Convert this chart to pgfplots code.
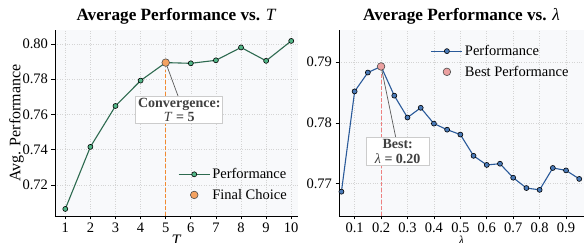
\documentclass[border=0pt]{standalone}
\usepackage{pgfplots}
\pgfplotsset{compat=1.18}
\usepackage{fontspec}
\setmainfont{Liberation Serif}
\definecolor{bgc}{HTML}{F8F9FB}
\definecolor{gline}{HTML}{2D6A4F}
\definecolor{gmark}{HTML}{52B788}
\definecolor{orng}{HTML}{F4A261}
\definecolor{orngd}{HTML}{F28A30}
\definecolor{bline}{HTML}{2A5A9A}
\definecolor{bmark}{HTML}{4A7AB8}
\definecolor{pinkc}{HTML}{EBA0A0}
\definecolor{pinkd}{HTML}{EE8080}
\definecolor{gridc}{HTML}{D4D4D4}
\pgfplotstableread{
x y
1 0.7064
2 0.7416
3 0.7648
4 0.7792
5 0.7894
6 0.7890
7 0.7907
8 0.7980
9 0.7904
10 0.8017
}\tabT
\pgfplotstableread{
x y
0.05 0.7687
0.10 0.7852
0.15 0.7883
0.20 0.7893
0.25 0.7845
0.30 0.7809
0.35 0.7825
0.40 0.7799
0.45 0.7789
0.50 0.7781
0.55 0.7746
0.60 0.7731
0.65 0.7733
0.70 0.7710
0.75 0.7693
0.80 0.7690
0.85 0.7726
0.90 0.7722
0.95 0.7708
}\tabL
\pgfplotsset{
  common/.style={
    scale only axis,
    axis on top=false,
    axis background/.style={fill=bgc},
    axis x line*=bottom, axis y line*=left,
    axis line style={black, line width=0.8pt},
    tick align=outside,
    major tick length=3.5pt,
    tick style={black, line width=0.7pt},
    grid=major,
    major grid style={gridc, dotted, line width=0.6pt},
    ticklabel style={font=\fontsize{14.5}{16}\selectfont},
    /pgf/number format/assume math mode=true,
    title style={font=\fontsize{17.2}{19}\selectfont\bfseries, yshift=-4pt},
    legend style={draw=none, fill=none, font=\fontsize{14.5}{16}\selectfont,
      row sep=5pt, inner sep=1pt},
    legend cell align=left,
    legend image code/.code={%
      \draw[mark repeat=2,mark phase=2,##1] plot coordinates {(0pt,0pt) (15.5pt,0pt) (31pt,0pt)};},
    clip=false,
  }
}
\begin{document}
\begin{tikzpicture}
\useasboundingbox (0pt,0pt) rectangle (584pt,243pt);
\begin{axis}[common,
  at={(55pt,27pt)}, anchor=south west,
  width=243pt, height=186pt,
  xmin=0.59, xmax=10.27, ymin=0.7024, ymax=0.8079,
  xtick={1,...,10},
  ytick={0.72,0.74,0.76,0.78,0.80},
  yticklabel style={/pgf/number format/.cd, fixed, fixed zerofill, precision=2},
  title={Average Performance vs. \textit{\mdseries T}},
  xlabel={\textit{T}}, xlabel style={font=\fontsize{16}{18}\selectfont, yshift=5pt},
  ylabel={Avg. Performance}, ylabel style={font=\fontsize{16}{18}\selectfont, yshift=-8pt},
  legend style={at={(0.967,0.065)}, anchor=south east},
]
\addplot[gline, line width=1.1pt, mark=*, mark size=2.5pt,
  mark options={fill=gmark, draw=black, line width=0.6pt, solid}] table[x=x,y=y] {\tabT};
\addlegendentry{Performance}
\addplot[color=orngd, dash pattern=on 4pt off 2pt, line width=1.1pt, forget plot] coordinates {(5,0.7024) (5,0.7850)};
\addplot[only marks, mark=*, mark size=3.8pt,
  mark options={fill=orng, draw=black!70, line width=0.6pt}] coordinates {(5,0.7894)};
\addlegendentry{Final Choice}
\draw[black!65, line width=0.7pt] (axis cs:5,0.7894) -- (axis cs:5.5,0.7701);
\node[draw=black!20, fill=white, line width=0.8pt, align=center,
  font=\fontsize{14}{14.5}\selectfont\bfseries, inner sep=2pt,
  minimum width=87pt, minimum height=24.5pt] at (axis cs:5.54,0.7626)
  {\textcolor{black!75}{Convergence:}\\\textcolor{black!75}{\textit{\mdseries T} = 5}};
\end{axis}
\begin{axis}[common,
  at={(339pt,27pt)}, anchor=south west,
  width=245pt, height=186pt,
  xmin=0.0408, xmax=0.968, ymin=0.7647, ymax=0.7953,
  xtick={0.1,0.2,...,0.9},
  xticklabel style={/pgf/number format/.cd, fixed, precision=1},
  ytick={0.77,0.78,0.79},
  yticklabel style={/pgf/number format/.cd, fixed, fixed zerofill, precision=2},
  title={Average Performance vs. \textit{\mdseries λ}},
  xlabel={\textit{λ}}, xlabel style={font=\fontsize{12}{13}\selectfont, yshift=4pt},
  legend style={at={(0.37,0.935)}, anchor=north west},
]
\addplot[bline, line width=1.1pt, mark=*, mark size=2.5pt,
  mark options={fill=bmark, draw=black, line width=0.6pt}] table[x=x,y=y] {\tabL};
\addlegendentry{Performance}
\addplot[color=pinkd, dash pattern=on 4pt off 2pt, line width=1.1pt, forget plot] coordinates {(0.2,0.7647) (0.2,0.7880)};
\addplot[only marks, mark=*, mark size=3.8pt,
  mark options={fill=pinkc, draw=black!70, line width=0.6pt}] coordinates {(0.2,0.7893)};
\addlegendentry{Best Performance}
\draw[black!65, line width=0.7pt] (axis cs:0.2,0.7893) -- (axis cs:0.2557,0.7776);
\node[draw=black!20, fill=white, line width=0.8pt, align=center,
  font=\fontsize{14}{14.5}\selectfont\bfseries, inner sep=2pt,
  minimum width=63pt, minimum height=24.5pt] at (axis cs:0.263,0.7753)
  {\textcolor{black!75}{Best:}\\\textcolor{black!75}{\textit{\mdseries λ} = 0.20}};
\end{axis}
\end{tikzpicture}
\end{document}
